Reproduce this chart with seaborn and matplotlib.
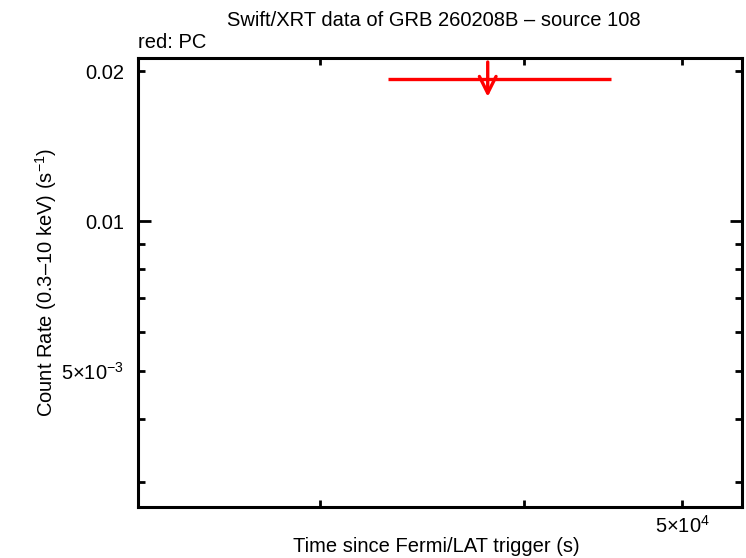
import numpy as np
import pandas as pd
import seaborn as sns
import matplotlib
matplotlib.use("Agg")
import matplotlib.pyplot as plt
from matplotlib.ticker import FixedLocator, FixedFormatter

# Data (PC mode, upper limit)
t_center = [3.80e4]
t_lo = [3.30e4]
t_hi = [4.52e4]
rate_ul = [0.0193]
arrow_top = [0.02085]
arrow_tip = [0.01775]

y_minor_ticks = [0.02, 0.009, 0.008, 0.007, 0.006, 0.005, 0.004, 0.003]
y_minor_labels = ["0.02", "", "", "", "", r"$5{\times}10^{-3}$", "", ""]
x_minor_ticks = [3e4, 4e4, 5e4]
x_minor_labels = ["", "", r"$5{\times}10^{4}$"]

sns.set_style("ticks")
plt.rcParams["font.family"] = ["Liberation Sans", "DejaVu Sans"]
plt.rcParams["mathtext.fontset"] = "custom"
plt.rcParams["mathtext.rm"] = "Liberation Sans"
plt.rcParams["mathtext.it"] = "Liberation Sans:italic"
plt.rcParams["mathtext.bf"] = "Liberation Sans:bold"
plt.rcParams["text.color"] = "black"
plt.rcParams["axes.labelcolor"] = "black"

FS = 14.5
fig = plt.figure(figsize=(7.46, 5.58), dpi=100)
ax = fig.add_axes([138/746, 1-507/558, (742-138)/746, (507-58)/558])

df = pd.DataFrame({"t": t_center, "rate": rate_ul, "lo": t_lo, "hi": t_hi})
ax.errorbar(df["t"], df["rate"],
            xerr=[df["t"] - df["lo"], df["hi"] - df["t"]],
            fmt="none", ecolor="red", elinewidth=2.4, capsize=0)
for xc, yt, yb in zip(t_center, arrow_top, arrow_tip):
    ax.annotate("", xy=(xc, yb), xytext=(xc, yt),
                arrowprops=dict(arrowstyle="->", color="red", lw=2.4,
                                mutation_scale=30, shrinkA=0, shrinkB=0))

ax.set_xscale("log")
ax.set_yscale("log")
ax.set_xlim(2.32e4, 5.44e4)
ax.set_ylim(0.002667, 0.02124)

ax.yaxis.set_major_locator(FixedLocator([0.01]))
ax.yaxis.set_major_formatter(FixedFormatter(["0.01"]))
ax.yaxis.set_minor_locator(FixedLocator(y_minor_ticks))
ax.yaxis.set_minor_formatter(FixedFormatter(y_minor_labels))

ax.xaxis.set_major_locator(FixedLocator([]))
ax.xaxis.set_minor_locator(FixedLocator(x_minor_ticks))
ax.xaxis.set_minor_formatter(FixedFormatter(x_minor_labels))

for sp in ax.spines.values():
    sp.set_linewidth(2.2)
    sp.set_color("black")
    sp.set_visible(True)

ax.tick_params(which="both", direction="in", top=True, right=True,
               width=2, colors="black", labelcolor="black", labelsize=FS)
ax.tick_params(axis="y", which="both", pad=10)
ax.tick_params(axis="x", which="both", pad=6)
ax.tick_params(which="major", length=9)
ax.tick_params(which="minor", length=5)

fig.text(436/746, 1-547/558, "Time since Fermi/LAT trigger (s)",
         ha="center", va="center", fontsize=FS, color="black")
fig.text(46/746, 1-282/558, "Count Rate (0.3\u201310 keV) (s$^{-1}$)",
         ha="center", va="center", rotation=90, fontsize=FS, color="black")
fig.text(434/746, 1-20/558, "Swift/XRT data of GRB 260208B \u2013 source 108",
         ha="center", va="center", fontsize=FS, color="black")
fig.text(138/746, 1-42/558, "red: PC", ha="left", va="center", fontsize=FS, color="black")

fig.savefig("out.png", dpi=100)
